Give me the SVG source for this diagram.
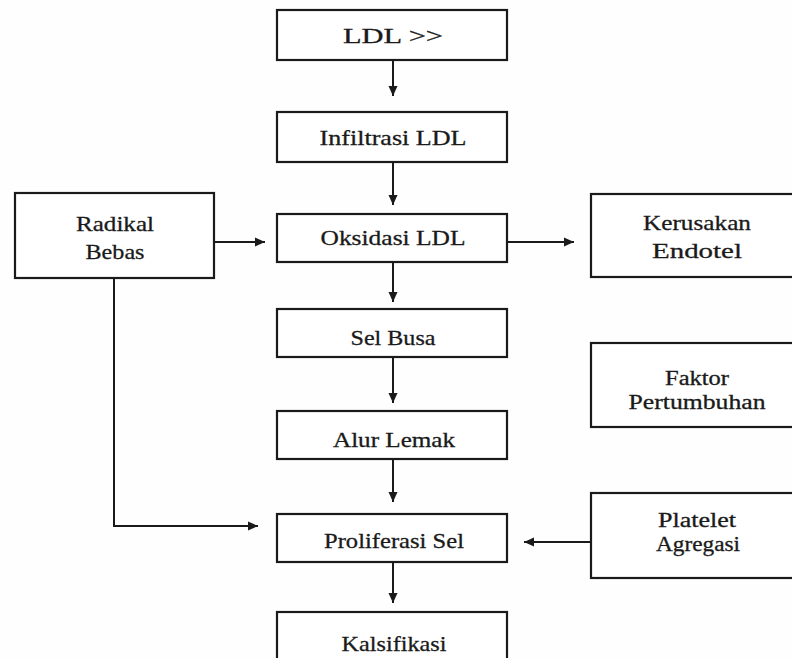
<svg xmlns="http://www.w3.org/2000/svg" width="792" height="658" viewBox="0 0 792 658">
<style>
.box{fill:#fff;stroke:#1a1a1a;stroke-width:2.2}
.t{font-family:"Liberation Serif","Times New Roman",serif;font-size:22px;fill:#1a1a1a;stroke:#1a1a1a;stroke-width:0.3;text-anchor:middle}
.s{font-size:20px}
.c{fill:none;stroke:#1a1a1a;stroke-width:2;marker-end:url(#ah)}
</style>
<defs>
<marker id="ah" viewBox="0 0 10 10" refX="10" refY="5" markerWidth="10" markerHeight="10" markerUnits="userSpaceOnUse" orient="auto">
<path d="M0,0.5 L10,5 L0,9.5 Z" fill="#1a1a1a"/>
</marker>
</defs>
<rect width="792" height="658" fill="#fefefe"/>
<g id="connectors">
<path class="c" d="M393,60 V96"/>
<path class="c" d="M393,162 V205"/>
<path class="c" d="M214,242 H265"/>
<path class="c" d="M507,242 H574"/>
<path class="c" d="M393,262 V302"/>
<path class="c" d="M393,357 V403"/>
<path class="c" d="M393,459 V502"/>
<path class="c" d="M114,278 V526 H258"/>
<path class="c" d="M591,542 H524"/>
<path class="c" d="M393,562 V603"/>
</g>
<g id="ldl">
<rect class="box" x="277" y="10" width="230" height="50"/>
<text class="t" x="393" y="43" textLength="100" lengthAdjust="spacingAndGlyphs">LDL &gt;&gt;</text>
</g>
<g id="infiltrasi">
<rect class="box" x="277" y="112" width="230" height="50"/>
<text class="t" x="393" y="145" textLength="147" lengthAdjust="spacingAndGlyphs">Infiltrasi LDL</text>
</g>
<g id="radikal">
<rect class="box" x="15" y="193" width="199" height="85"/>
<text class="t" x="115" y="231" textLength="78" lengthAdjust="spacingAndGlyphs">Radikal</text>
<text class="t" x="115" y="259" textLength="59" lengthAdjust="spacingAndGlyphs">Bebas</text>
</g>
<g id="oksidasi">
<rect class="box" x="277" y="214" width="230" height="48"/>
<text class="t" x="393" y="245" textLength="145" lengthAdjust="spacingAndGlyphs">Oksidasi LDL</text>
</g>
<g id="kerusakan">
<rect class="box" x="591" y="194" width="215" height="83"/>
<text class="t" x="697" y="230" textLength="108" lengthAdjust="spacingAndGlyphs">Kerusakan</text>
<text class="t" x="697" y="258" textLength="90" lengthAdjust="spacingAndGlyphs">Endotel</text>
</g>
<g id="selbusa">
<rect class="box" x="277" y="309" width="230" height="48"/>
<text class="t" x="393" y="345" textLength="85" lengthAdjust="spacingAndGlyphs">Sel Busa</text>
</g>
<g id="faktor">
<rect class="box" x="591" y="343" width="215" height="84"/>
<text class="t s" x="697" y="385" textLength="64" lengthAdjust="spacingAndGlyphs">Faktor</text>
<text class="t s" x="697" y="409" textLength="137" lengthAdjust="spacingAndGlyphs">Pertumbuhan</text>
</g>
<g id="alur">
<rect class="box" x="277" y="411" width="230" height="48"/>
<text class="t" x="394" y="447" textLength="122" lengthAdjust="spacingAndGlyphs">Alur Lemak</text>
</g>
<g id="proliferasi">
<rect class="box" x="277" y="514" width="230" height="48"/>
<text class="t" x="394" y="548" textLength="140" lengthAdjust="spacingAndGlyphs">Proliferasi Sel</text>
</g>
<g id="platelet">
<rect class="box" x="591" y="493" width="215" height="85"/>
<text class="t s" x="697" y="527" textLength="78" lengthAdjust="spacingAndGlyphs">Platelet</text>
<text class="t s" x="698" y="551" textLength="84" lengthAdjust="spacingAndGlyphs">Agregasi</text>
</g>
<g id="kalsifikasi">
<rect class="box" x="277" y="612" width="230" height="60"/>
<text class="t" x="394" y="651" textLength="105" lengthAdjust="spacingAndGlyphs">Kalsifikasi</text>
</g>
</svg>
